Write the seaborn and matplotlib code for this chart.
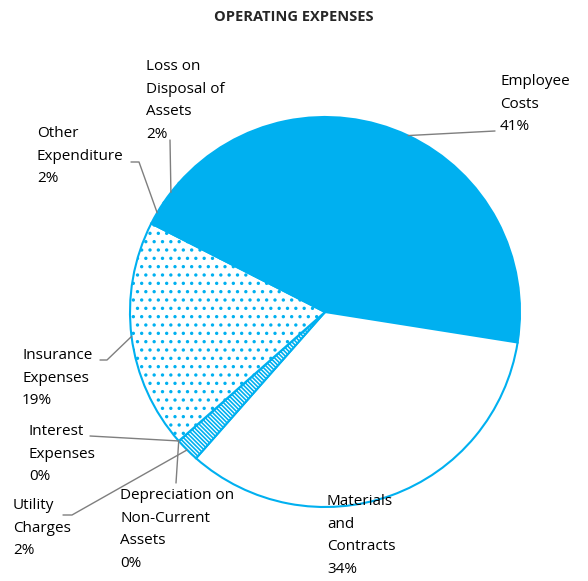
import numpy as np
import matplotlib
matplotlib.use("Agg")
import matplotlib.pyplot as plt
import seaborn as sns

# data (Excel order, drawn clockwise)
categories = ["Employee\nCosts", "Materials\nand\nContracts", "Utility\nCharges",
              "Depreciation on\nNon-Current\nAssets", "Interest\nExpenses",
              "Insurance\nExpenses", "Other\nExpenditure", "Loss on\nDisposal of\nAssets"]
shares = [41, 34, 2, 0, 0, 19, 2, 2]

blue = "#00B0F0"
fills = [blue, "white", "white", "white", "white", "white", blue, blue]
hatches = [None, None, "\\" * 8, None, None, "..", None, None]

# label layout in pixels: text top-left, and the elbow path of the leader line
label_pos = [(500, 74), (327, 494), (13, 498), (120, 488), (29, 424), (22, 348), (37, 126), (146, 59)]
leader_path = [[(495, 131)], None, [(72, 515), (63, 515)], [(176, 483)], [(90, 436)],
               [(107, 360), (100, 360)], [(139, 162), (131, 162)], [(170, 140)]]
leader_anchor = [None, None, None, 4, None, None, None, None]  # depreciation shares interest point

W, H = 588, 581
sns.set_theme(style="white")
plt.rcParams["font.family"] = ["Open Sans", "DejaVu Sans"]
plt.rcParams["hatch.linewidth"] = 1.2

fig = plt.figure(figsize=(W / 100, H / 100), dpi=100)
ax = fig.add_axes([0, 0, 1, 1])

cx, cy, r = 325, H - 312, 195
wedges, _ = ax.pie(shares, startangle=138.6, counterclock=False, colors=fills,
                   center=(cx, cy), radius=r,
                   wedgeprops=dict(edgecolor=blue, linewidth=1.5))
for w, h in zip(wedges, hatches):
    if h:
        w.set_hatch(h)

ax.set_xlim(0, W)
ax.set_ylim(0, H)
ax.set_aspect("equal")
ax.axis("off")

pct = [f"{v}%" for v in shares]
for i, w in enumerate(wedges):
    j = leader_anchor[i] if leader_anchor[i] is not None else i
    ww = wedges[j]
    ang = np.deg2rad((ww.theta1 + ww.theta2) / 2)
    ax_pt = (cx + r * np.cos(ang), cy + r * np.sin(ang))
    if leader_path[i]:
        xs = [ax_pt[0]] + [p[0] for p in leader_path[i]]
        ys = [ax_pt[1]] + [H - p[1] for p in leader_path[i]]
        ax.plot(xs, ys, color="#7F7F7F", lw=1.0, zorder=1)
    tx, ty = label_pos[i]
    ax.text(tx, H - ty, categories[i] + "\n" + pct[i], ha="left", va="top",
            fontsize=11, linespacing=1.7, color="#000000")

ax.text(W / 2, H - 10, "OPERATING EXPENSES", ha="center", va="top",
        fontsize=10.5, fontweight="bold")

fig.savefig("out.png", dpi=100)
